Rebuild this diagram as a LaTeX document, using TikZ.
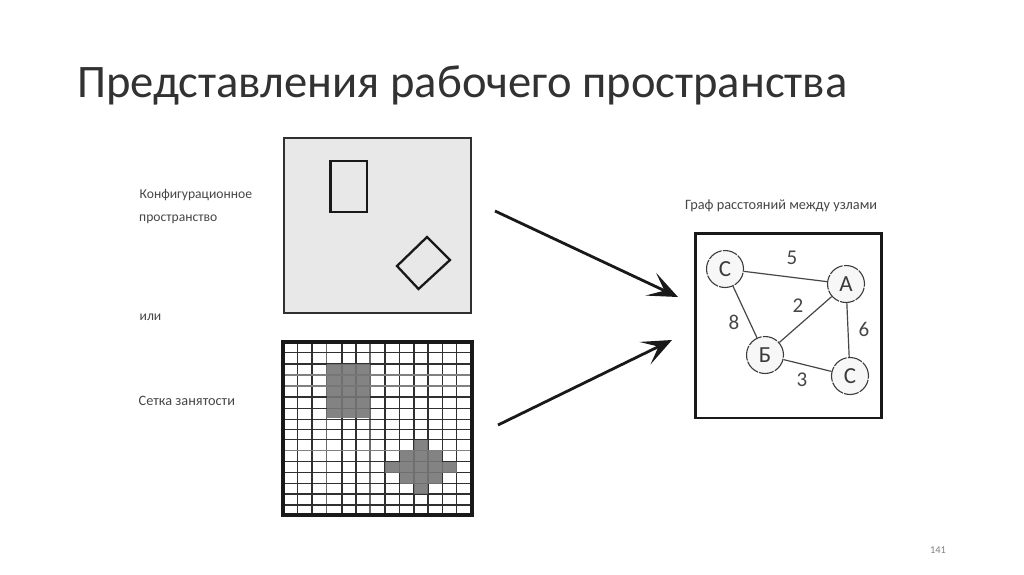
\documentclass[tikz,border=0pt]{standalone}
\usepackage{fontspec}
\setmainfont{Carlito}
\usetikzlibrary{arrows.meta}
\definecolor{titlec}{RGB}{50,50,50}
\definecolor{textc}{RGB}{70,70,70}
\definecolor{panelc}{RGB}{232,232,232}
\definecolor{cellc}{RGB}{118,118,118}
\definecolor{linec}{RGB}{25,25,25}
\tikzset{
  caption/.style={anchor=west,inner sep=0pt,text=textc,font=\fontsize{13.6}{16}\selectfont},
  widecaption/.style={caption,font=\fontsize{14.3}{16}\selectfont},
  vertex/.style={circle,draw=linec!85,line width=1.1pt,dash pattern=on 15pt off 1.2pt,fill=gray!6,minimum size=37pt,inner sep=0pt,font=\fontsize{23}{25}\selectfont,text=linec!85},
  edgeline/.style={draw=linec!80,line width=1.2pt},
  weight/.style={inner sep=0pt,font=\fontsize{21}{23}\selectfont,text=linec!80},
  bigarrow/.style={draw=linec,line width=2.8pt,-{Stealth[length=30pt,width=25pt,inset=15pt]}},
}
\begin{document}
\begin{tikzpicture}[x=1pt,y=-1pt]
\useasboundingbox (0,0) rectangle (1024,574);
\fill[white] (0,0) rectangle (1024,574);
\node[anchor=west,inner sep=0pt,text=titlec,font=\fontsize{46.6}{50}\selectfont] (title) at (77,85) {Представления рабочего пространства};
% left captions
\node[caption] (cap1) at (139.5,195) {Конфигурационное};
\node[caption] (cap2) at (139,219) {пространство};
\node[caption] (cap3) at (139.5,317) {или};
\node[widecaption] (cap4) at (138.5,401) {Сетка занятости};
\node[widecaption] (cap5) at (685,206) {Граф расстояний между узлами};
% configuration space
\draw[fill=panelc,draw=linec!90,line width=2pt] (284,137.5) rectangle (471,313);
\draw[draw=linec,line width=2.2pt,fill=panelc] (330.5,161) rectangle (367,212);
\draw[draw=linec,line width=2.3pt,fill=panelc] (427,237) -- (450,260) -- (418.5,289) -- (397,266) -- cycle;
% occupancy grid: lines
\foreach \x/\w in {297.5/1.8,312/1.6,342/2.2,356/1.7,385/1.7,399.5/1.8,414/1.6,428/1.7,442.5/1.6,456.5/1.7}
  \draw[draw=linec!90,line width=\w pt] (\x,342) -- (\x,515);
\foreach \x/\w in {326.5/1.6,370/1.5}
  \draw[draw=linec!65,line width=\w pt] (\x,342) -- (\x,515);
\foreach \y/\w in {352.5/1.8,363.5/2,397/2,408.5/1.8,419.5/1.8,429.5/1.7,439.5/1.8,461.5/1.8,472.5/1.9,483.5/1.7,494/1.6,505/2}
  \draw[draw=linec!90,line width=\w pt] (283,\y) -- (472,\y);
\foreach \y in {375,386,450.5}
  \draw[draw=linec!55,line width=1.4pt] (283,\y) -- (472,\y);
% occupancy grid: gray cells, the lines showing faintly through
\fill[cellc,fill opacity=.9] (326.5,363.5) rectangle (370,418);
\fill[cellc,fill opacity=.9] (385,461.5) rectangle (457,472.5);
\fill[cellc,fill opacity=.9] (399.5,450.5) rectangle (442,461.5);
\fill[cellc,fill opacity=.9] (399.5,472.5) rectangle (442,483.5);
\fill[cellc,fill opacity=.9] (414,439.5) rectangle (428,450.5);
\fill[cellc,fill opacity=.9] (414,483.5) rectangle (428,494);
\draw[draw=linec,line width=3.2pt] (283,342) rectangle (472,515);
% distance graph
\draw[draw=linec,line width=2.2pt] (695.5,233.5) rectangle (881.5,418);
\node[vertex] (c1) at (725,269) {С};
\node[vertex] (a) at (846,284) {А};
\node[vertex] (b) at (765,355) {Б};
\node[vertex] (c2) at (850,376) {С};
\draw[edgeline] (c1) -- (a);
\draw[edgeline] (c1) -- (b);
\draw[edgeline] (b) -- (a);
\draw[edgeline] (a) -- (c2);
\draw[edgeline] (b) -- (c2);
\node[weight] (w5) at (792,258) {5};
\node[weight] (w2) at (798,306) {2};
\node[weight] (w8) at (734,322) {8};
\node[weight] (w6) at (864,329) {6};
\node[weight] (w3) at (802,380) {3};
% arrows
\coordinate (s1) at (495,211);
\coordinate (e1) at (678,297);
\coordinate (s2) at (498,425);
\coordinate (e2) at (672,340);
\draw[bigarrow] (s1) -- (e1);
\draw[bigarrow] (s2) -- (e2);
\node[inner sep=0pt,text=gray,font=\fontsize{10.5}{12}\selectfont] (page) at (938,550) {141};
\end{tikzpicture}
\end{document}
